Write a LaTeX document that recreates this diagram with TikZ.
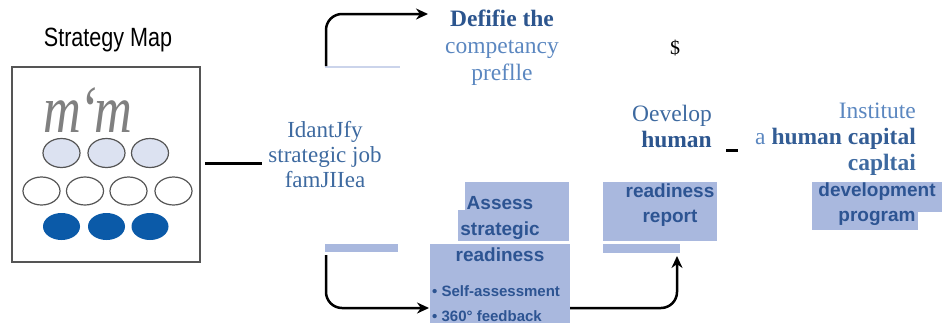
\documentclass[tikz,border=0pt]{standalone}
\usepackage{fontspec}
\setmainfont{Liberation Serif}
\setsansfont{Liberation Sans}
\usepackage{tikz}
\usetikzlibrary{shapes.geometric,arrows.meta}
\definecolor{darkblue}{HTML}{2C558E}
\definecolor{midblue}{HTML}{3E6AA0}
\definecolor{lightblue}{HTML}{5B87C0}
\definecolor{boxblue}{HTML}{2D5492}
\definecolor{boxfill}{HTML}{A9B8DE}
\definecolor{ellfill}{HTML}{DCE2F1}
\definecolor{dotblue}{HTML}{0B5AA8}
\definecolor{rimgray}{HTML}{555555}

\begin{document}
\begin{tikzpicture}
[
x=1pt, y=-1pt,
every node/.style={inner sep=0pt},
sertext/.style={align=center, font=\fontsize{23.5}{26}\selectfont},
boxtext/.style={align=center, text=boxblue, font=\sffamily\bfseries\fontsize{19}{25}\selectfont},
flow/.style={->, >={Stealth[length=12pt,width=11pt]}, line width=2.5pt, rounded corners=16pt},
patch/.style={fill=boxfill},
topdot/.style={ellipse, draw=rimgray, fill=ellfill, line width=1.2pt, minimum width=37pt, minimum height=29pt},
middot/.style={ellipse, draw=rimgray, fill=white, line width=1.2pt, minimum width=37pt, minimum height=28pt},
lowdot/.style={ellipse, fill=dotblue, minimum width=37pt, minimum height=27pt}
]
\clip (0,0) rectangle (942,322);

% strategy map
\node[font=\sffamily\fontsize{22}{26}\selectfont] (title) at (108,40) {\scalebox{0.98}[1.2]{Strategy Map}};
\node[draw=rimgray, line width=1.5pt, minimum width=188pt, minimum height=195pt] (map) at (106,164.5) {};
\node[anchor=base, text=gray, font=\itshape\fontsize{54}{54}\selectfont] (mm) at (88,132) {\scalebox{0.97}[1.25]{m\kern-2pt‘\kern-3pt m}};
\node[topdot] (t1) at (61.5,153) {};
\node[topdot] (t2) at (106.5,153) {};
\node[topdot] (t3) at (150,153) {};
\node[middot] (m1) at (41.5,191) {};
\node[middot] (m2) at (85,191) {};
\node[middot] (m3) at (128.5,191) {};
\node[middot] (m4) at (173.5,191) {};
\node[lowdot] (l1) at (61.5,226.5) {};
\node[lowdot] (l2) at (106.5,226.5) {};
\node[lowdot] (l3) at (150,226.5) {};

\coordinate (mapout) at (205,163);
\coordinate (jobin) at (262,163);
\draw[line width=3pt] (mapout) -- (jobin);

\node[sertext, text=midblue, font=\fontsize{23}{25}\selectfont] (job) at (325,155) {IdantJfy\\strategic job\\famJIIea};

% arrows out of the job families
\fill[boxfill!60] (325,66) rectangle (400,68);
\fill[patch] (325,244) rectangle (398,252);
\coordinate (defstart) at (326,66);
\coordinate (defend) at (428,14);
\draw[flow] (defstart) |- (defend);
\coordinate (assstart) at (326,255);
\coordinate (assend) at (429,308);
\draw[flow] (assstart) |- (assend);

\node[sertext, text=lightblue, font=\fontsize{23.5}{27}\selectfont] (define) at (502,48) {\textbf{\color{darkblue}Defifie the}\\competancy\\preflle};
\node[font=\fontsize{20}{20}\selectfont] (dollar) at (675,48) {\$};

% assess box
\fill[patch] (465,182) rectangle (569,241);
\fill[patch] (458,210) rectangle (465,241);
\node[patch, minimum width=140pt, minimum height=86pt] (assess) at (500,287) {};
\node[boxtext, font=\sffamily\bfseries\fontsize{19}{26}\selectfont] (assesstitle) at (500,229) {Assess\\strategic\\readiness};
\node[boxtext, align=left, anchor=west, font=\sffamily\bfseries\fontsize{15}{25}\selectfont] (bullets) at (432,304) {• Self-assessment\\• 360° feedback};

% readiness report
\node[patch, minimum width=114pt, minimum height=59pt] (report) at (660,211.5) {};
\node[boxtext] (reporttext) at (670,205.5) {readiness\\report};
\fill[patch] (603,244) rectangle (680,253);
\coordinate (assessout) at (570,308);
\coordinate (reportin) at (677,256);
\draw[flow] (assessout) -| (reportin);

\node[sertext, text=midblue, align=right, anchor=east] (develop) at (712,126.5) {Oevelop\\\textbf{\color{darkblue}human}};
\fill (726,148.5) rectangle (738,151.5);

\node[sertext, text=lightblue, align=right, anchor=east] (institute) at (916,139) {Institute\\a \textbf{\color{darkblue!85!lightblue}human capital}\\\textbf{\color{midblue}capltai}};

% development program
\fill[patch] (812,182) rectangle (918,230);
\fill[patch] (918,182) rectangle (942,212);
\node[boxtext] (devtext) at (877,204.5) {development\\program};
\end{tikzpicture}
\end{document}
